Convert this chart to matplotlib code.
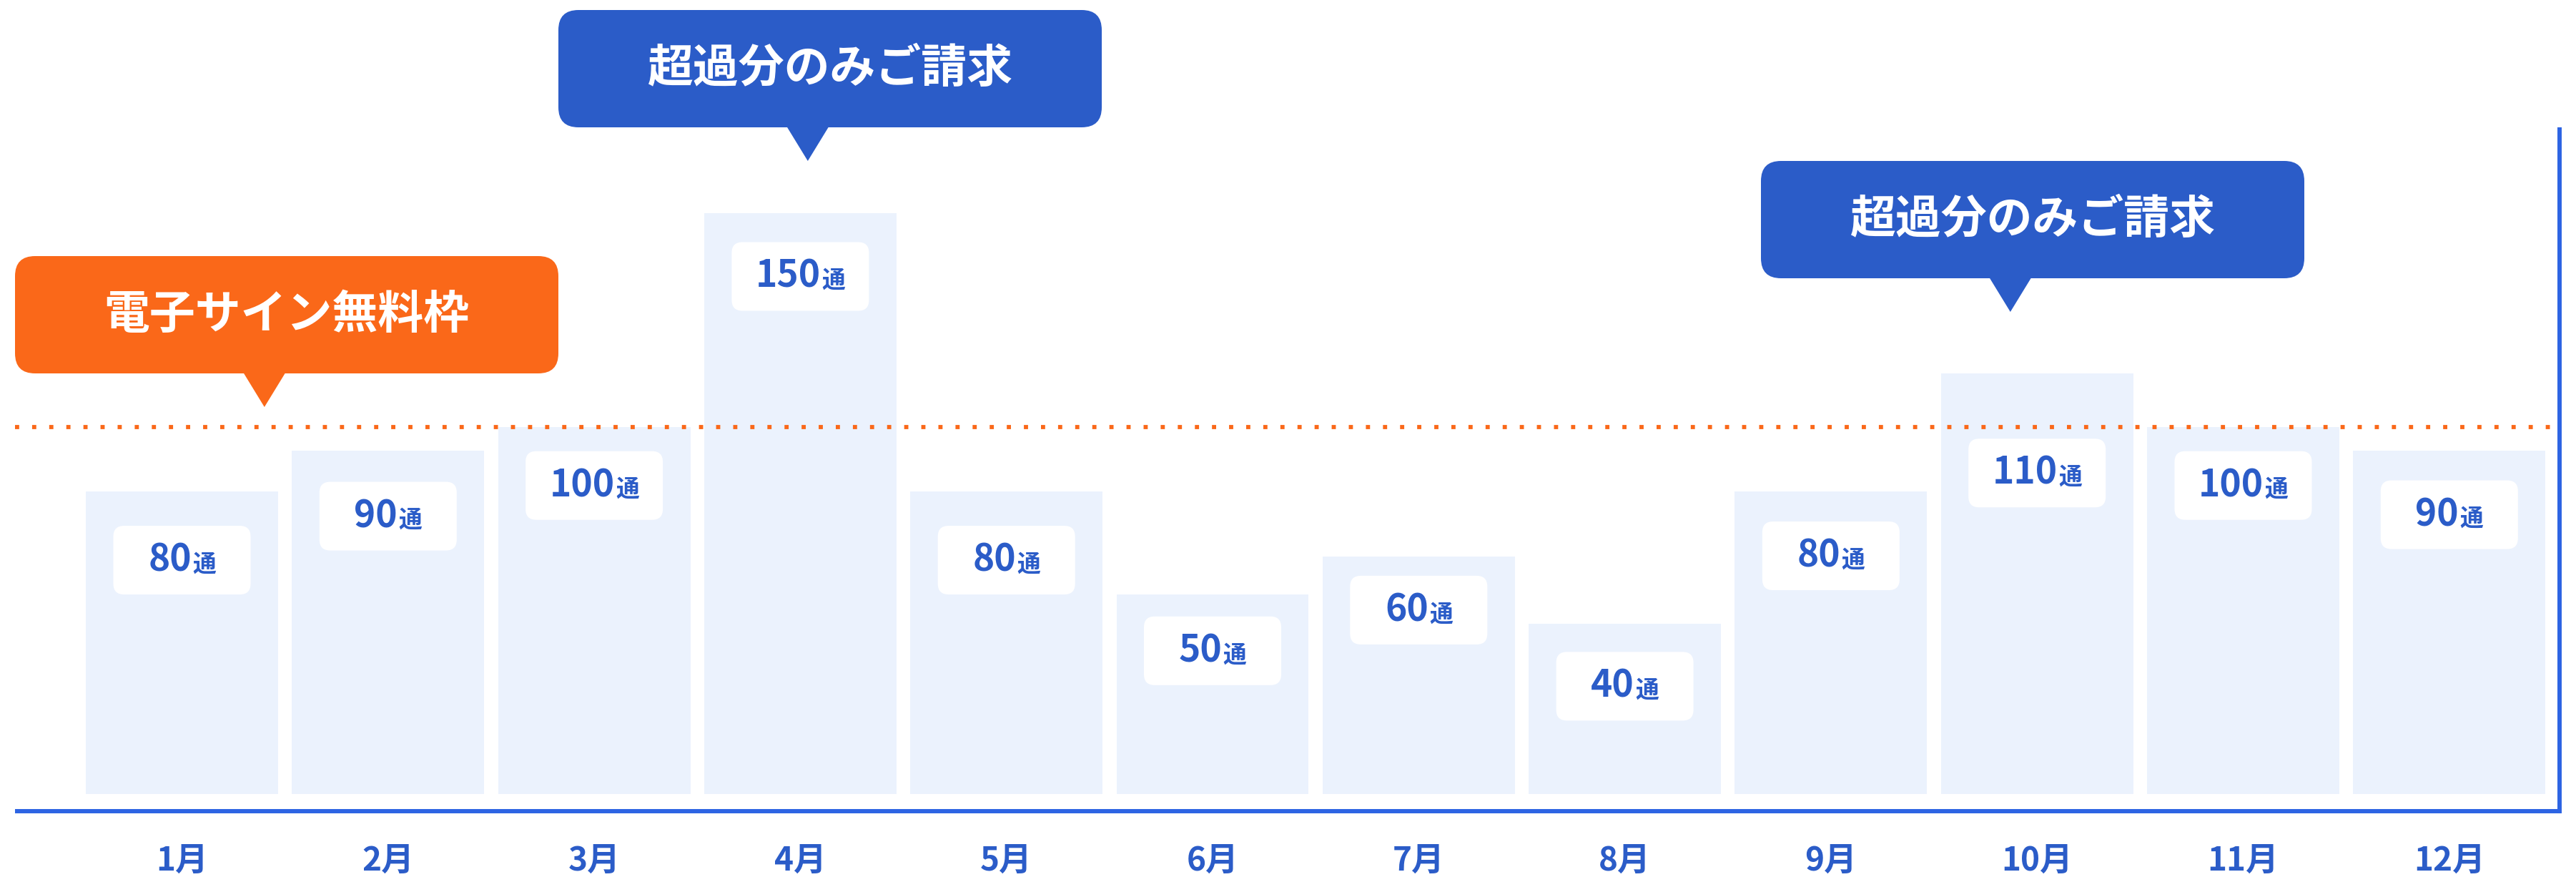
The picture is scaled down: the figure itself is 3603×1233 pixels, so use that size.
import matplotlib.pyplot as plt
from matplotlib.patches import FancyBboxPatch, Polygon
from matplotlib.lines import Line2D
from matplotlib.offsetbox import TextArea, HPacker, AnnotationBbox
from matplotlib import transforms

plt.rcParams['font.family'] = ['Noto Sans CJK JP', 'DejaVu Sans']

# データ
months = ['1月', '2月', '3月', '4月', '5月', '6月', '7月', '8月', '9月', '10月', '11月', '12月']
counts = [80, 90, 100, 150, 80, 50, 60, 40, 80, 110, 100, 90]
# 棒の見た目の高さ (イラストなので件数と比例していない)
bar_heights = [82.4, 93.6, 100, 158.1, 82.4, 54.4, 64.7, 46.3, 82.4, 114.5, 100, 93.6]
free_quota = 100
unit_label = '通'
free_label = '電子サイン無料枠'
over_label = '超過分のみご請求'

# 見た目
W, H = 3603, 1233
ORANGE = '#FA6819'
BLUE = '#2B5CC8'
LINE_BLUE = '#2D64E3'
BAR_COLOR = '#EBF2FD'
PX_PER_UNIT = 5.133
PX_PER_CAT = 288.3
# ラベル箱の中心が棒の上端から下がる量 (px)
label_drop = [96, 92, 82, 88, 96, 79, 75, 87, 90, 139, 82, 90]

fig = plt.figure(figsize=(W / 100, H / 100), dpi=100)


def fx(x):
    return x / W


def fy(y):
    return 1 - y / H


# 棒グラフ
ax = fig.add_axes([fx(110.35), fy(1110), PX_PER_CAT * 12 / W, 1110 / H])
ax.set_xlim(-0.5, 11.5)
ax.set_ylim(0, 1110 / PX_PER_UNIT)
ax.axis('off')

xs = list(range(len(months)))
ax.bar(xs, bar_heights, width=0.933, color=BAR_COLOR, zorder=1)

# 件数ラベル (白い角丸ボックス)
bw, bh = 192 / PX_PER_CAT, 96 / PX_PER_UNIT
for i, (h, c) in enumerate(zip(bar_heights, counts)):
    cy = h - label_drop[i] / PX_PER_UNIT
    box = FancyBboxPatch((i - bw / 2, cy - bh / 2), bw, bh,
                         boxstyle='round,pad=0,rounding_size=%f' % (15 / PX_PER_CAT),
                         mutation_aspect=PX_PER_CAT / PX_PER_UNIT,
                         fc='white', ec='none', zorder=2)
    ax.add_patch(box)
    num = TextArea(str(c), textprops=dict(color=BLUE, fontsize=37, fontweight='bold'))
    unit = TextArea(unit_label, textprops=dict(color=BLUE, fontsize=23.5, fontweight='bold'))
    pack = HPacker(children=[num, unit], align='baseline', pad=0, sep=1)
    ab = AnnotationBbox(pack, (i, cy), frameon=False, box_alignment=(0.5, 0.5), zorder=3)
    ax.add_artist(ab)

# 月ラベル
for i, m in enumerate(months):
    ax.text(i, -(1204 - 1110) / PX_PER_UNIT, m, ha='center', va='center',
            fontsize=33, fontweight='bold', color=BLUE, clip_on=False)

# 軸線
fig.add_artist(Line2D([fx(21), fx(3583)], [fy(1134), fy(1134)], transform=fig.transFigure,
                      color=LINE_BLUE, lw=4.3, solid_capstyle='butt'))
fig.add_artist(Line2D([fx(3580), fx(3580)], [fy(178), fy(1137)], transform=fig.transFigure,
                      color=LINE_BLUE, lw=4.3, solid_capstyle='butt'))

# 無料枠の点線
trans = transforms.blended_transform_factory(fig.transFigure, ax.transData)
fig.add_artist(Line2D([fx(21), fx(3575)], [free_quota, free_quota], transform=trans,
                      color=ORANGE, lw=4.2, linestyle=(0, (1, 3.1)), dash_capstyle='butt'))


# 吹き出し
def callout(text, color, left, top, width=760, height=164):
    ident = transforms.IdentityTransform()
    bottom = H - (top + height)
    box = FancyBboxPatch((left, bottom), width, height,
                         boxstyle='round,pad=0,rounding_size=28',
                         fc=color, ec='none', transform=ident, zorder=5)
    fig.add_artist(box)
    tip_x = left + width * 0.459
    tri = Polygon([(tip_x - 30, bottom + 2), (tip_x + 30, bottom + 2), (tip_x, bottom - 47)],
                  closed=True, fc=color, ec='none', transform=ident, zorder=5)
    fig.add_artist(tri)
    fig.text(fx(left + width / 2), fy(top + height / 2), text, ha='center', va='center',
             color='white', fontsize=46, fontweight='bold', zorder=6)


callout(free_label, ORANGE, 21, 358)
callout(over_label, BLUE, 781, 14)
callout(over_label, BLUE, 2463, 225)

fig.savefig('out.png', dpi=100, facecolor='white')
